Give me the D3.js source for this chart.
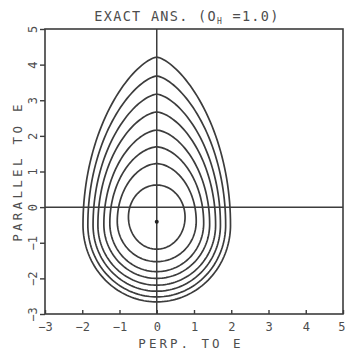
<!DOCTYPE html>
<html>
<head>
<meta charset="utf-8">
<script src="https://cdn.jsdelivr.net/npm/d3@7"></script>
<style>
  html, body { margin: 0; padding: 0; background: #fff; }
  svg { display: block; }
  text { font-family: "DejaVu Sans Mono", monospace; fill: #4d4d4d; }
</style>
</head>
<body>
<div id="chart"></div>
<script>
// axis ticks
const xTicks = [-3, -2, -1, 0, 1, 2, 3, 4, 5];
const yTicks = [-3, -2, -1, 0, 1, 2, 3, 4, 5];

// contours, outer -> inner
const contourTop = [4.21, 3.68, 3.17, 2.67, 2.16, 1.69, 1.22, 0.62];
const contourBottom = [-2.66, -2.52, -2.36, -2.19, -2.00, -1.81, -1.53, -1.18];
const contourHalfWidth = [1.98, 1.85, 1.71, 1.58, 1.42, 1.26, 1.06, 0.76];
const contourWideAt = [-0.5, -0.5, -0.5, -0.5, -0.48, -0.45, -0.4, -0.28];

// peak marker
const peak = [0, -0.41];

const W = 345, H = 357;
const margin = { top: 29, right: 2, bottom: 43, left: 45 };
const ink = '#3c3c3c';

const svg = d3.select('#chart').append('svg')
  .attr('width', W)
  .attr('height', H);

const x = d3.scaleLinear().domain([-3, 5]).range([margin.left, W - margin.right]);
const y = d3.scaleLinear().domain([-3, 5]).range([H - margin.bottom, margin.top]);

// egg outline: elliptical below the widest row, sharper on top
function eggPoints(top, bottom, hw, yw) {
  const up = top - yw, down = yw - bottom;
  const q = Math.max(0.5, 0.5 + 0.15 * (up / hw - 1.2)); // top sharpness
  const pts = [];
  const n = 90;
  for (let i = 0; i <= n; i++) {           // right side, bottom -> top
    const th = -Math.PI / 2 + Math.PI * i / n;
    const s = Math.sin(th), c = Math.cos(th);
    if (s < 0) pts.push([hw * c, yw + down * s]);
    else pts.push([hw * Math.pow(c * c, q), yw + up * s]);
  }
  for (let i = n - 1; i > 0; i--) {        // mirror to the left
    pts.push([-pts[i][0], pts[i][1]]);
  }
  return pts;
}

const line = d3.line()
  .x(d => x(d[0]))
  .y(d => y(d[1]))
  .curve(d3.curveLinearClosed);

const plot = svg.append('g').attr('class', 'plot');

// crosshair through origin
plot.append('line')
  .attr('x1', x(0)).attr('x2', x(0))
  .attr('y1', y(5)).attr('y2', y(-3))
  .attr('stroke', ink).attr('stroke-width', 1.5);
plot.append('line')
  .attr('x1', x(-3)).attr('x2', x(5))
  .attr('y1', y(0)).attr('y2', y(0))
  .attr('stroke', ink).attr('stroke-width', 1.5);

plot.selectAll('path.contour')
  .data(d3.range(contourTop.length))
  .join('path')
  .attr('class', 'contour')
  .attr('d', i => line(eggPoints(contourTop[i], contourBottom[i], contourHalfWidth[i], contourWideAt[i])))
  .attr('fill', 'none')
  .attr('stroke', ink)
  .attr('stroke-width', 1.7);

plot.append('circle')
  .attr('cx', x(peak[0]))
  .attr('cy', y(peak[1]))
  .attr('r', 2)
  .attr('fill', '#222');

// frame
svg.append('rect')
  .attr('x', x(-3)).attr('y', y(5))
  .attr('width', x(5) - x(-3))
  .attr('height', y(-3) - y(5))
  .attr('fill', 'none')
  .attr('stroke', ink)
  .attr('stroke-width', 1.6);

// bottom axis, ticks pointing in
const xAxis = svg.append('g')
  .attr('transform', `translate(0,${y(-3)})`)
  .call(d3.axisBottom(x).tickValues(xTicks).tickSize(-4).tickPadding(8).tickFormat(d3.format('d')));
xAxis.select('.domain').remove();
xAxis.selectAll('line').attr('stroke', ink).attr('stroke-width', 1.4);
xAxis.selectAll('text')
  .style('font-family', '"DejaVu Sans Mono", monospace')
  .style('font-size', '12px')
  .attr('fill', '#4d4d4d');
// last label sits on the page edge
xAxis.selectAll('.tick').filter(d => d === 5).select('text')
  .attr('text-anchor', 'end')
  .attr('x', 345 - x(5));

// left axis, ticks pointing out, labels turned
const yAxis = svg.append('g')
  .attr('transform', `translate(${x(-3)},0)`)
  .call(d3.axisLeft(y).tickValues(yTicks).tickSize(5).tickFormat(d3.format('d')));
yAxis.select('.domain').remove();
yAxis.selectAll('line').attr('stroke', ink).attr('stroke-width', 1.4);
yAxis.selectAll('text')
  .attr('x', null).attr('dy', null)
  .attr('text-anchor', 'middle')
  .attr('transform', 'translate(-8,0) rotate(-90)')
  .style('font-family', '"DejaVu Sans Mono", monospace')
  .style('font-size', '12px')
  .attr('fill', '#4d4d4d');

// titles
const title = svg.append('text')
  .attr('x', 187).attr('y', 21)
  .attr('text-anchor', 'middle')
  .style('font-size', '13.5px')
  .style('letter-spacing', '1.3px');
title.append('tspan').text('EXACT ANS. (O');
title.append('tspan').text('H').style('font-size', '8px').attr('dy', 3);
title.append('tspan').text(' =1.0)').attr('dy', -3);

svg.append('text')
  .attr('x', 191).attr('y', 348)
  .attr('text-anchor', 'middle')
  .style('font-size', '12.5px')
  .style('letter-spacing', '3px')
  .text('PERP. TO E');

svg.append('text')
  .attr('transform', `translate(22,${(y(5) + y(-3)) / 2}) rotate(-90)`)
  .attr('text-anchor', 'middle')
  .style('font-size', '12.5px')
  .style('letter-spacing', '3.3px')
  .text('PARALLEL TO E');
</script>
</body>
</html>
